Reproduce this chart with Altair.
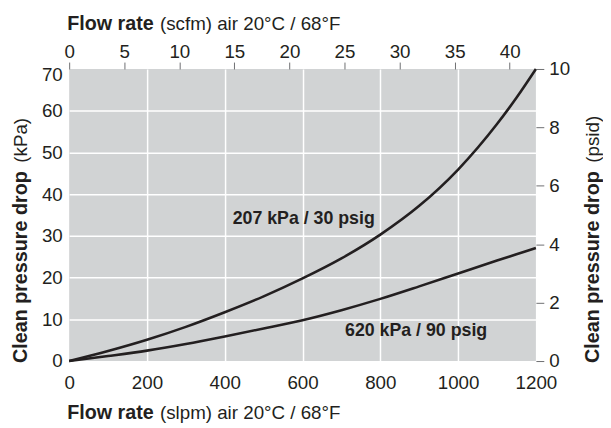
import altair as alt
import pandas as pd

# ---- data ----
slpm = [0, 100, 200, 300, 400, 500, 600, 700, 800, 900, 1000, 1100, 1150, 1200]
kpa_30psig = [0, 2.4, 5.1, 8.2, 11.7, 15.5, 19.8, 24.6, 30.3, 37.2, 45.9, 56.8, 63.1, 70]
kpa_90psig = [0, 1.2, 2.5, 4.1, 5.9, 7.8, 9.8, 12.2, 14.9, 17.9, 21.0, 24.1, 25.6, 27.1]
series_names = ["207 kPa / 30 psig", "620 kPa / 90 psig"]
label_slpm = [603, 892]
label_kpa = [34, 7.2]

slpm_ticks = [0, 200, 400, 600, 800, 1000, 1200]
kpa_ticks = [0, 10, 20, 30, 40, 50, 60, 70]
scfm_ticks = [0, 5, 10, 15, 20, 25, 30, 35, 40]
psid_ticks = [0, 2, 4, 6, 8, 10]
scfm_max = 1200 / 28.317
psid_max = 10

lines_df = pd.DataFrame({
    "slpm": slpm + slpm,
    "kpa": kpa_30psig + kpa_90psig,
    "series": [series_names[0]] * len(slpm) + [series_names[1]] * len(slpm),
})
labels_df = pd.DataFrame({"slpm": label_slpm, "kpa": label_kpa, "series": series_names})
secondary_df = pd.DataFrame({"scfm": [0, scfm_max], "psid": [0, psid_max]})

FONT = "Liberation Sans"
INK = "#231f20"
TICK = "#6d6e71"
FS = 19

x_main = alt.X(
    "slpm:Q",
    scale=alt.Scale(domain=[0, 1200], nice=False),
    axis=alt.Axis(
        orient="bottom", values=slpm_ticks, title=None, tickSize=0, domain=False,
        labelPadding=13, labelFont=FONT, labelFontSize=FS, labelColor=INK,
        labelFlush=False, format="d",
        grid=True, gridColor="white", gridWidth=1.5,
        gridOpacity=alt.condition("datum.value == 0 || datum.value == 1200", alt.value(0), alt.value(1)),
    ),
)
y_main = alt.Y(
    "kpa:Q",
    scale=alt.Scale(domain=[0, 70], nice=False),
    axis=alt.Axis(
        orient="left", values=kpa_ticks, title=None, tickSize=0, domain=False,
        labelPadding=7, labelFont=FONT, labelFontSize=FS, labelColor=INK,
        labelFlush=False, format="d",
        grid=True, gridColor="white", gridWidth=1.5,
        gridOpacity=alt.condition("datum.value == 0 || datum.value == 70", alt.value(0), alt.value(1)),
        labelOffset=alt.condition("datum.value == 70", alt.value(6), alt.value(0)),
    ),
)

lines = alt.Chart(lines_df).mark_line(color=INK, strokeWidth=2.6, interpolate="monotone").encode(
    x=x_main, y=y_main, detail="series:N"
)
labels = alt.Chart(labels_df).mark_text(
    font=FONT, fontWeight="bold", fontSize=18, color=INK
).encode(x="slpm:Q", y="kpa:Q", text="series:N")


def title_text(txt, x, y, bold, angle=0):
    return alt.Chart(alt.Data(values=[{}])).mark_text(
        font=FONT, fontSize=20 if bold else FS, fontWeight="bold" if bold else "normal",
        color=INK, align="left", baseline="alphabetic", angle=angle,
    ).encode(x=alt.value(x), y=alt.value(y), text=alt.value(txt))


titles = [
    title_text("Flow rate", -2, -40, True),
    title_text("(scfm) air 20°C / 68°F", 92, -40, False),
    title_text("Flow rate", -2, 355, True),
    title_text("(slpm) air 20°C / 68°F", 92, 355, False),
    title_text("Clean pressure drop", -43, 298, True, 270),
    title_text("(kPa)", -43, 95, False, 270),
    title_text("Clean pressure drop", 537, 298, True, 270),
    title_text("(psid)", 537, 95, False, 270),
]

main = alt.layer(lines, labels, *titles)

secondary = alt.Chart(secondary_df).mark_point(opacity=0).encode(
    x=alt.X(
        "scfm:Q",
        scale=alt.Scale(domain=[0, scfm_max], nice=False),
        axis=alt.Axis(
            orient="top", values=scfm_ticks, title=None, tickSize=7, tickColor=TICK,
            tickWidth=1, domain=False, grid=False, labelPadding=1, labelFlush=False,
            labelFont=FONT, labelFontSize=FS, labelColor=INK, format="d",
        ),
    ),
    y=alt.Y(
        "psid:Q",
        scale=alt.Scale(domain=[0, psid_max], nice=False),
        axis=alt.Axis(
            orient="right", values=psid_ticks, title=None, tickSize=8, tickColor=TICK,
            tickWidth=1, domain=False, grid=False, labelPadding=5, labelFlush=False,
            labelFont=FONT, labelFontSize=FS, labelColor=INK, format="d",
        ),
    ),
)

chart = alt.layer(main, secondary).resolve_scale(x="independent", y="independent").properties(
    width=473, height=296,
    padding={"left": 62, "top": 59, "right": 68, "bottom": 61},
    autosize="none",
).configure_view(fill="#d1d3d4", strokeWidth=0)

chart.save("out.html", embed_options={"renderer": "svg", "actions": False})
